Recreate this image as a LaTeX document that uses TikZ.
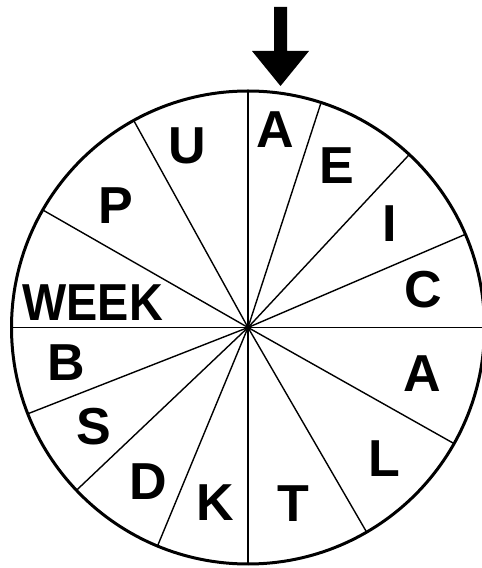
\documentclass[tikz,border=0pt]{standalone}
\usepackage{fontspec}
\setmainfont{Liberation Sans}
\begin{document}
\begin{tikzpicture}[x=1pt,y=1pt,
  rim/.style={line width=3pt},
  spoke/.style={line width=1.4pt},
  letter/.style={inner sep=0pt,font=\fontsize{52}{52}\selectfont\bfseries}]
\useasboundingbox (0,0) rectangle (482,568);
\coordinate (c) at (248,240.5);
% spokes
\foreach \a [count=\i] in {90,72,47,23.2,0,-29.4,-59.9,-90,-112.5,-136.5,-158.6,180,150.2,118.9}{
  \path (c) ++(\a:236.5) coordinate (r\i);
  \draw[spoke] (c) -- (r\i);
}
\draw[rim] (c) circle[radius=236.5];
% letters
\node[letter] (lA) at (275.5,438.5) {A};
\node[letter] (lE) at (337.3,402.7) {E};
\node[letter] (lI) at (389.7,344.8) {I};
\node[letter] (lC) at (423.5,278.5) {C};
\node[letter] (lA2) at (421.8,194.8) {A};
\node[letter] (lL) at (384.2,109.2) {L};
\node[letter] (lT) at (293.5,64.2) {T};
\node[letter] (lK) at (215,65) {K};
\node[letter] (lD) at (148.3,86.7) {D};
\node[letter] (lS) at (93.8,141.2) {S};
\node[letter] (lB) at (65.8,205.3) {B};
\node[letter,xscale=0.9] (lW) at (92.7,265.7) {WEEK};
\node[letter] (lP) at (115.8,362.2) {P};
\node[letter] (lU) at (187,422.2) {U};
% pointer arrow
\coordinate (tip) at (280.5,482);
\fill (274,561) -- (287,561) -- (287,517) -- (309,517) -- (tip) -- (252,517) -- (274,517) -- cycle;
\end{tikzpicture}
\end{document}
